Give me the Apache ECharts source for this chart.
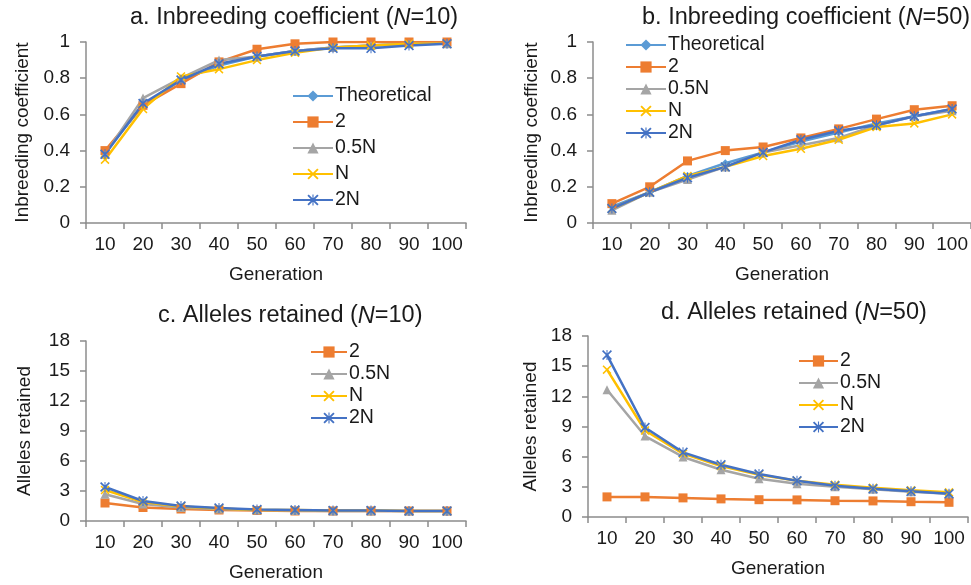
<!DOCTYPE html>
<html>
<head>
<meta charset="utf-8">
<script src="https://cdn.jsdelivr.net/npm/echarts@6/dist/echarts.min.js"></script>
<style>
  html, body { margin: 0; padding: 0; background: #fff; }
  #chart { width: 971px; height: 585px; }
</style>
</head>
<body>
<div id="chart"></div>
<script>
// generations on the x axis
const generations = ['10', '20', '30', '40', '50', '60', '70', '80', '90', '100'];

// a. inbreeding coefficient, N=10
const inbreedN10Theory = [0.39, 0.65, 0.79, 0.87, 0.92, 0.95, 0.97, 0.98, 0.99, 0.99];
const inbreedN10Two    = [0.40, 0.65, 0.77, 0.89, 0.96, 0.99, 1.00, 1.00, 1.00, 1.00];
const inbreedN10Half   = [0.38, 0.69, 0.80, 0.90, 0.92, 0.95, 0.97, 0.98, 0.99, 0.99];
const inbreedN10N      = [0.35, 0.63, 0.81, 0.85, 0.90, 0.94, 0.97, 0.98, 0.99, 0.99];
const inbreedN10TwoN   = [0.38, 0.66, 0.79, 0.88, 0.92, 0.95, 0.965, 0.965, 0.98, 0.99];

// b. inbreeding coefficient, N=50
const inbreedN50Theory = [0.09, 0.17, 0.26, 0.33, 0.39, 0.45, 0.50, 0.55, 0.59, 0.63];
const inbreedN50Two    = [0.107, 0.20, 0.343, 0.40, 0.42, 0.47, 0.52, 0.574, 0.626, 0.648];
const inbreedN50Half   = [0.07, 0.17, 0.24, 0.31, 0.39, 0.43, 0.47, 0.54, 0.59, 0.62];
const inbreedN50N      = [0.08, 0.17, 0.26, 0.31, 0.37, 0.41, 0.46, 0.53, 0.55, 0.60];
const inbreedN50TwoN   = [0.08, 0.17, 0.25, 0.31, 0.39, 0.46, 0.51, 0.54, 0.59, 0.63];

// c. alleles retained, N=10
const allelesN10Two  = [1.8, 1.35, 1.2, 1.1, 1.05, 1.0, 1.0, 1.0, 1.0, 1.0];
const allelesN10Half = [2.67, 1.7, 1.35, 1.2, 1.1, 1.05, 1.0, 1.0, 1.0, 1.0];
const allelesN10N    = [3.1, 1.9, 1.45, 1.25, 1.1, 1.1, 1.05, 1.05, 1.0, 1.0];
const allelesN10TwoN = [3.4, 2.0, 1.5, 1.3, 1.15, 1.1, 1.05, 1.05, 1.0, 1.0];

// d. alleles retained, N=50
const allelesN50Two  = [2.0, 2.0, 1.9, 1.8, 1.72, 1.7, 1.62, 1.6, 1.52, 1.46];
const allelesN50Half = [12.66, 8.05, 5.97, 4.7, 3.8, 3.3, 3.0, 2.75, 2.5, 2.3];
const allelesN50N    = [14.65, 8.6, 6.3, 5.07, 4.2, 3.6, 3.2, 2.9, 2.65, 2.45];
const allelesN50TwoN = [16.1, 8.9, 6.43, 5.2, 4.27, 3.6, 3.1, 2.8, 2.55, 2.3];

const titles = ['a. Inbreeding coefficient (', 'b. Inbreeding coefficient (', 'c. Alleles retained (', 'd. Alleles retained ('];
const titleN = ['10', '50', '10', '50'];

const FONT = 'Liberation Sans, Arial, sans-serif';
const TEXT = '#1a1a1a';
const AXIS = '#8c8c8c';

const xMark = 'path://M0,0.12 L0.12,0 L0.5,0.38 L0.88,0 L1,0.12 L0.62,0.5 L1,0.88 L0.88,1 L0.5,0.62 L0.12,1 L0,0.88 L0.38,0.5 Z';
const starMark = 'path://M0,0.12 L0.12,0 L0.5,0.38 L0.88,0 L1,0.12 L0.62,0.5 L1,0.88 L0.88,1 L0.5,0.62 L0.12,1 L0,0.88 L0.38,0.5 Z M0.45,0 L0.55,0 L0.55,1 L0.45,1 Z';

const styles = {
  'Theoretical': { color: '#5b9bd5', symbol: 'diamond', size: 8 },
  '2':           { color: '#ed7d31', symbol: 'rect', size: 9 },
  '0.5N':        { color: '#a5a5a5', symbol: 'triangle', size: 9 },
  'N':           { color: '#ffc000', symbol: xMark, size: 9 },
  '2N':          { color: '#4472c4', symbol: starMark, size: 10 }
};

const grids = [
  { left: 86, top: 42, width: 380, height: 181 },
  { left: 593, top: 42, width: 378, height: 181 },
  { left: 86, top: 341, width: 380, height: 180 },
  { left: 588, top: 336, width: 380, height: 181 }
];

const panels = [
  { names: ['Theoretical', '2', '0.5N', 'N', '2N'],
    data: [inbreedN10Theory, inbreedN10Two, inbreedN10Half, inbreedN10N, inbreedN10TwoN] },
  { names: ['Theoretical', '2', '0.5N', 'N', '2N'],
    data: [inbreedN50Theory, inbreedN50Two, inbreedN50Half, inbreedN50N, inbreedN50TwoN] },
  { names: ['2', '0.5N', 'N', '2N'],
    data: [allelesN10Two, allelesN10Half, allelesN10N, allelesN10TwoN] },
  { names: ['2', '0.5N', 'N', '2N'],
    data: [allelesN50Two, allelesN50Half, allelesN50N, allelesN50TwoN] }
];

const series = [];
panels.forEach((p, i) => {
  p.names.forEach((name, k) => {
    const s = styles[name];
    series.push({
      name: name,
      type: 'line',
      xAxisIndex: i,
      yAxisIndex: i,
      data: p.data[k],
      symbol: s.symbol,
      symbolSize: s.size,
      itemStyle: { color: s.color },
      lineStyle: { color: s.color, width: 2.5 },
      animation: false
    });
  });
});

const titleBoxes = [
  { left: 130, top: 6 },
  { left: 642, top: 6 },
  { left: 158, top: 304 },
  { left: 661, top: 301 }
];

const legendBoxes = [
  { left: 292, top: 86, itemWidth: 40, itemGap: 6 },
  { left: 625, top: 35, itemWidth: 40, itemGap: 2 },
  { left: 310, top: 342, itemWidth: 36, itemGap: 2 },
  { left: 798, top: 351, itemWidth: 39, itemGap: 2 }
];

const yNames = ['Inbreeding coefficient', 'Inbreeding coefficient', 'Alleles retained', 'Alleles retained'];
const yNameGaps = [54, 52, 52, 48];

const chart = echarts.init(document.getElementById('chart'));
chart.setOption({
  backgroundColor: '#fff',
  textStyle: { fontFamily: FONT, color: TEXT },
  title: titles.map((t, i) => ({
    text: '{n|' + t + '}{i|N}{n|=' + titleN[i] + ')}',
    left: titleBoxes[i].left,
    top: titleBoxes[i].top,
    padding: 0,
    textStyle: {
      fontWeight: 'normal',
      rich: {
        n: { fontSize: 23.5, fontFamily: FONT, color: TEXT, fontWeight: 'normal' },
        i: { fontSize: 23.5, fontFamily: FONT, color: TEXT, fontWeight: 'normal', fontStyle: 'italic' }
      }
    }
  })),
  legend: panels.map((p, i) => ({
    data: p.names,
    orient: 'vertical',
    left: legendBoxes[i].left,
    top: legendBoxes[i].top,
    padding: 0,
    itemWidth: legendBoxes[i].itemWidth,
    itemHeight: 14,
    itemGap: legendBoxes[i].itemGap,
    selectedMode: false,
    textStyle: { fontSize: 19.5, fontFamily: FONT, color: TEXT, padding: [0, 0, 0, -3] }
  })),
  grid: grids,
  xAxis: grids.map((g, i) => ({
    type: 'category',
    gridIndex: i,
    data: generations,
    boundaryGap: true,
    name: 'Generation',
    nameLocation: 'middle',
    nameGap: 42,
    nameTextStyle: { fontSize: 19, color: TEXT },
    axisLine: { lineStyle: { color: AXIS, width: 1.5 } },
    axisTick: { show: true, length: 6, lineStyle: { color: AXIS, width: 1.5 } },
    axisLabel: { fontSize: 19, color: TEXT, margin: 12, interval: 0 },
    splitLine: { show: false }
  })),
  yAxis: grids.map((g, i) => ({
    type: 'value',
    gridIndex: i,
    min: 0,
    max: i < 2 ? 1 : 18,
    interval: i < 2 ? 0.2 : 3,
    name: yNames[i],
    nameLocation: 'middle',
    nameGap: yNameGaps[i],
    nameTextStyle: { fontSize: 19, color: TEXT },
    axisLine: { show: true, lineStyle: { color: AXIS, width: 1.5 } },
    axisTick: { show: true, length: 6, lineStyle: { color: AXIS, width: 1.5 } },
    axisLabel: { fontSize: 19, color: TEXT, margin: 16 },
    splitLine: { show: false }
  })),
  series: series
});
</script>
</body>
</html>
